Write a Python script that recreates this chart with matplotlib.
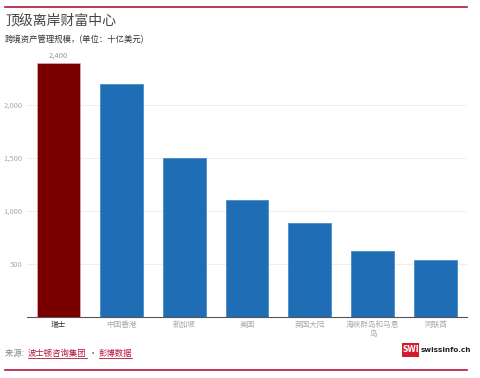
import matplotlib
matplotlib.use('Agg')
import matplotlib.pyplot as plt
from matplotlib.lines import Line2D
from matplotlib.patches import Rectangle

plt.rcParams['font.family'] = ['Noto Sans CJK SC', 'DejaVu Sans']

# 数据
centers = ['瑞士', '中国香港', '新加坡', '美国', '英国大陆', '海峡群岛和马恩\n岛', '阿联酋']
values = [2400, 2200, 1500, 1100, 890, 620, 540]
yticks = [500, 1000, 1500, 2000]
ytick_labels = ['500', '1,000', '1,500', '2,000']

red_line = '#b5133a'
gray = '#aaaaaa'

fig = plt.figure(figsize=(4.8, 3.78), dpi=100)
ax = fig.add_axes([27 / 480, 61 / 378, 440 / 480, 265 / 378])

colors = ['#7a0000'] + ['#1f6db5'] * (len(values) - 1)
edges = ['#e6a9b3'] + ['#3d82c4'] * (len(values) - 1)
x = list(range(len(values)))
ax.bar(x, values, width=0.68, color=colors, edgecolor=edges, linewidth=0.5, zorder=3)

# 最大值标签
ax.text(0, values[0] + 30, '2,400', ha='center', va='bottom', fontsize=5.5, color='#999999')

ax.set_xlim(-0.5, 6.5)
ax.set_ylim(0, 2500)
ax.set_yticks(yticks)
ax.set_yticklabels(ytick_labels, fontsize=5.5, color=gray)
ax.set_xticks(x)
ax.set_xticklabels(centers, fontsize=5.5, color=gray, linespacing=1.2)
ax.get_xticklabels()[0].set_color('#333333')
ax.tick_params(axis='both', length=0, pad=3)
ax.grid(axis='y', color='#eeeeee', linewidth=0.8, zorder=0)
for s in ['top', 'right', 'left']:
    ax.spines[s].set_visible(False)
ax.spines['bottom'].set_color('#555555')
ax.spines['bottom'].set_linewidth(0.8)

# 标题
fig.add_artist(Line2D([5 / 480, 467 / 480], [1 - 7 / 378, 1 - 7 / 378], color=red_line, lw=1.2))
fig.text(5 / 480, 1 - 20 / 378, '顶级离岸财富中心', fontsize=10, color='#444444', va='center')
fig.text(5 / 480, 1 - 40 / 378, '跨境资产管理规模，(单位：十亿美元)', fontsize=6, color='#333333', va='center')

# 底部
fig.add_artist(Line2D([5 / 480, 467 / 480], [1 - 370 / 378, 1 - 370 / 378], color=red_line, lw=1.2))
fig.canvas.draw()
r = fig.canvas.get_renderer()
fy = 1 - 356 / 378
xpos = 5 / 480
parts = [('来源: ', '#888888', False), ('波士顿咨询集团', red_line, True),
         ('·', '#555555', False), ('彭博数据', red_line, True)]
for s, c, ul in parts:
    t = fig.text(xpos, fy, s, fontsize=6, color=c, va='baseline')
    bb = t.get_window_extent(r).transformed(fig.transFigure.inverted())
    if ul:
        fig.add_artist(Line2D([bb.x0, bb.x1], [fy - 1.5 / 378, fy - 1.5 / 378], color=c, lw=0.6))
    xpos = bb.x1 + 2 / 480

# logo
fig.add_artist(Rectangle((402 / 480, 1 - 357 / 378), 17 / 480, 14 / 378, color='#d21b2f', lw=0))
fig.text(410.5 / 480, 1 - 350 / 378, 'SWI', fontsize=5.5, color='white', fontweight='bold',
         ha='center', va='center', family='DejaVu Sans')
fig.text(421 / 480, 1 - 350 / 378, 'swissinfo.ch', fontsize=5.2, color='#222222', fontweight='bold',
         ha='left', va='center', family='DejaVu Sans')

fig.savefig('out.png', dpi=100)
